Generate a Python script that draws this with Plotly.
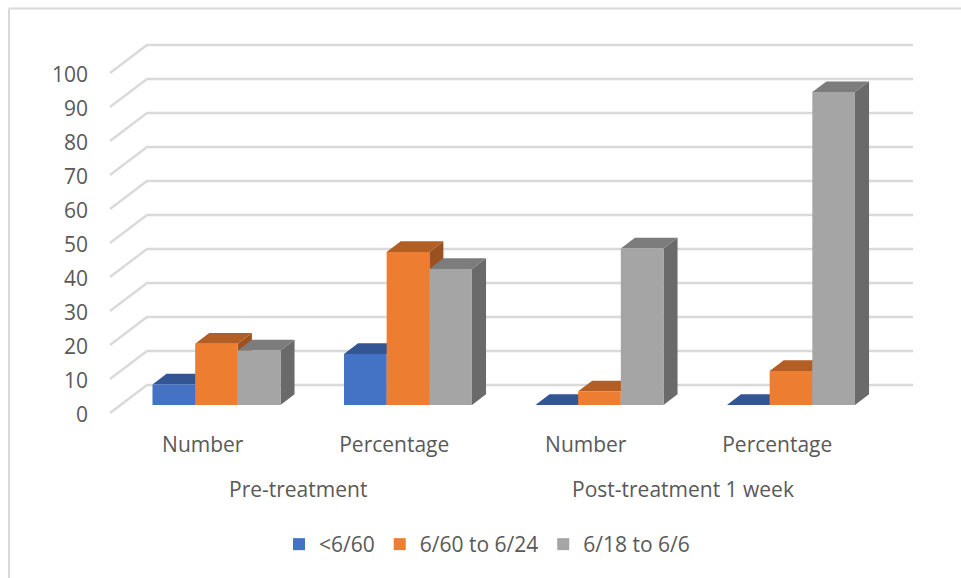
import plotly.graph_objects as go

# Chart data
groups = ["Pre-treatment", "Post-treatment 1 week"]
categories = ["Number", "Percentage", "Number", "Percentage"]
series_names = ["<6/60", "6/60 to 6/24", "6/18 to 6/6"]
below_6_60 = [6, 15, 0, 0]
from_6_60_to_6_24 = [18, 45, 4, 10]
from_6_18_to_6_6 = [16, 40, 46, 92]
y_ticks = [0, 10, 20, 30, 40, 50, 60, 70, 80, 90, 100]

series_values = [below_6_60, from_6_60_to_6_24, from_6_18_to_6_6]
front_colors = ["#4472C4", "#ED7D31", "#A5A5A5"]
top_colors = ["#335593", "#B35E25", "#7C7C7C"]
side_colors = ["#2C4A80", "#9C5220", "#6A6A6A"]
GRID = "#D9D9D9"
TEXT = "#595959"
FONT = "Open Sans"
FONT_SIZE = 21

# Oblique projection: one unit of depth moves a point right and up the axes
KX = 37 / 191.5
KY = 28 / 3.4
BAR_FRONT = 0.29
BAR_BACK = 0.67
BAR_WIDTH = 0.2228

# Plot-area placement in page pixels
L, R, T, B = 92, 925, 20, 430
X_ORIGIN, X_UNIT = 110, 191.5
Y_ORIGIN, Y_UNIT = 413, 3.4
x_range = [(L - X_ORIGIN) / X_UNIT, (R - X_ORIGIN) / X_UNIT]
y_range = [(Y_ORIGIN - B) / Y_UNIT, (Y_ORIGIN - T) / Y_UNIT]


def project(x, v, depth):
    return x + depth * KX, v + depth * KY


def polygon(points):
    xs, ys = zip(*(project(*p) for p in points))
    return list(xs) + [xs[0]], list(ys) + [ys[0]]


fig = go.Figure()

# Back wall and side wall gridlines
grid_x, grid_y = [], []
for v in y_ticks:
    for x, d in [(0, 0), (0, 1), (len(categories), 1)]:
        px, py = project(x, v, d)
        grid_x.append(px)
        grid_y.append(py)
    grid_x.append(None)
    grid_y.append(None)
fig.add_trace(go.Scatter(x=grid_x, y=grid_y, mode="lines", showlegend=False,
                         line=dict(color=GRID, width=2.3), hoverinfo="skip"))

# Side and top faces of each bar
for j, values in enumerate(series_values):
    for i, val in enumerate(values):
        left = i + 0.5 + (j - 1.5) * BAR_WIDTH
        right = left + BAR_WIDTH
        if val > 0:
            sx, sy = polygon([(right, 0, BAR_FRONT), (right, val, BAR_FRONT),
                              (right, val, BAR_BACK), (right, 0, BAR_BACK)])
            fig.add_trace(go.Scatter(x=sx, y=sy, mode="lines", fill="toself", fillcolor=side_colors[j],
                                     line=dict(width=0), showlegend=False, hoverinfo="skip"))
        tx, ty = polygon([(left, val, BAR_FRONT), (right, val, BAR_FRONT),
                          (right, val, BAR_BACK), (left, val, BAR_BACK)])
        fig.add_trace(go.Scatter(x=tx, y=ty, mode="lines", fill="toself", fillcolor=top_colors[j],
                                 line=dict(width=0), showlegend=False, hoverinfo="skip"))

# Front faces sit on an overlaying pair of axes so they cover the faces behind them
for j, values in enumerate(series_values):
    fig.add_trace(go.Bar(
        x=[i + 0.5 + (j - 1) * BAR_WIDTH for i in range(len(values))],
        y=values, width=BAR_WIDTH, name=series_names[j],
        marker=dict(color=front_colors[j], line=dict(width=0)),
        xaxis="x2", yaxis="y2",
    ))


def px_x(p):
    return (p - L) / (R - L)


def px_y(p):
    return (B - p) / (B - T)


frame = dict(type="line", xref="paper", yref="paper",
             line=dict(color=GRID, width=2), layer="below")
annotations = [
    dict(text=g, x=c, xref="x", xshift=s, y=px_y(489), yref="paper", showarrow=False,
         yanchor="middle", font=dict(family=FONT, size=FONT_SIZE, color=TEXT))
    for g, c, s in zip(groups, [1, 3], [-4, -2])
]

fig.update_layout(
    width=961, height=578,
    margin=dict(l=L, r=961 - R, t=T, b=578 - B),
    paper_bgcolor="white", plot_bgcolor="white",
    barmode="overlay",
    font=dict(family=FONT, size=FONT_SIZE, color=TEXT),
    xaxis=dict(range=x_range, tickvals=[i + 0.5 for i in range(len(categories))], ticktext=categories,
               showgrid=False, zeroline=False, showline=False, ticks="", ticklabelstandoff=0,
               ticklabelshift=-3),
    yaxis=dict(range=y_range, tickvals=y_ticks, showgrid=False, zeroline=False,
               showline=False, ticks="", ticklabelstandoff=3, ticklabelshift=2),
    xaxis2=dict(range=[a - BAR_FRONT * KX for a in x_range], overlaying="x", visible=False),
    yaxis2=dict(range=[a - BAR_FRONT * KY for a in y_range], overlaying="y", visible=False),
    legend=dict(orientation="h", x=px_x(487), xanchor="center", y=px_y(544.5), yanchor="middle",
                font=dict(family=FONT, size=FONT_SIZE, color=TEXT), itemsizing="constant"),
    annotations=annotations,
    shapes=[
        {**frame, "x0": px_x(9), "x1": px_x(961), "y0": px_y(8.5), "y1": px_y(8.5)},
        {**frame, "x0": px_x(9), "x1": px_x(9), "y0": px_y(8.5), "y1": px_y(578)},
    ],
    showlegend=True,
)

fig.write_html("out.html")
